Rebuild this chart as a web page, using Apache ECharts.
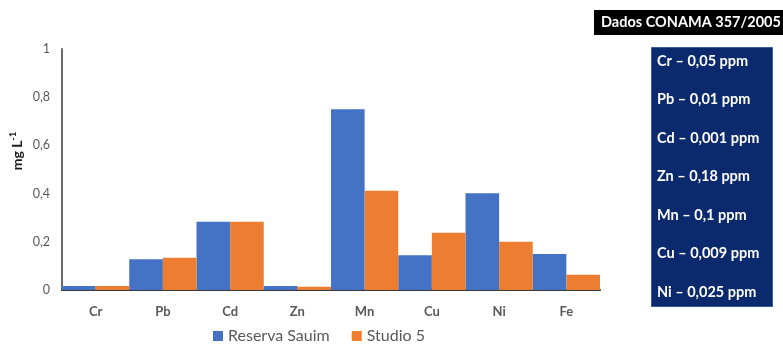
<!DOCTYPE html>
<html>
<head>
<meta charset="utf-8">
<script src="https://cdn.jsdelivr.net/npm/echarts@6/dist/echarts.min.js"></script>
<style>
  html, body { margin: 0; padding: 0; background: #fff; }
  #chart { width: 783px; height: 346px; }
</style>
</head>
<body>
<div id="chart"></div>
<script>
// Metal concentrations (mg L-1) per element and sampling site
const elements = ['Cr', 'Pb', 'Cd', 'Zn', 'Mn', 'Cu', 'Ni', 'Fe'];
const reservaSauim = [0.017, 0.128, 0.283, 0.017, 0.75, 0.144, 0.401, 0.149];
const studio5 = [0.017, 0.134, 0.283, 0.014, 0.412, 0.238, 0.2, 0.063];
const yTicks = [0, 0.2, 0.4, 0.6, 0.8, 1];

// CONAMA 357/2005 reference limits shown in the side panel
const limitsTitle = 'Dados CONAMA 357/2005';
const limits = [
  'Cr – 0,05 ppm',
  'Pb – 0,01 ppm',
  'Cd – 0,001 ppm',
  'Zn – 0,18 ppm',
  'Mn – 0,1 ppm',
  'Cu – 0,009 ppm',
  'Ni – 0,025 ppm'
];

const FONT = 'Lato, "Open Sans", sans-serif';
const chart = echarts.init(document.getElementById('chart'), null, { renderer: 'canvas' });

const panelTop = 47, panelBottom = 306;
const firstLine = 61, lineStep = 38.5;
const limitTexts = limits.map((t, i) => ({
  type: 'text',
  x: 657,
  y: firstLine + lineStep * i,
  style: { text: t, fill: '#ffffff', font: 'bold 14.5px ' + FONT, verticalAlign: 'middle' }
}));

chart.setOption({
  animation: false,
  color: ['#4472C4', '#ED7D31'],
  grid: { left: 62, right: 183, top: 49, bottom: 56 },
  legend: {
    bottom: -3,
    left: 208,
    itemWidth: 10,
    itemHeight: 10,
    itemGap: 22,
    icon: 'rect',
    textStyle: { color: '#595959', fontSize: 16, fontFamily: FONT }
  },
  xAxis: {
    type: 'category',
    data: elements,
    axisLine: { lineStyle: { color: '#3a3a3a', width: 2 } },
    axisTick: { show: false },
    axisLabel: { color: '#595959', fontWeight: 'bold', fontSize: 13, fontFamily: FONT, margin: 15 }
  },
  yAxis: {
    type: 'value',
    min: 0,
    max: 1,
    interval: 0.2,
    axisLine: { show: true, lineStyle: { color: '#6b6b6b', width: 2 } },
    axisTick: { show: false },
    splitLine: { show: false },
    axisLabel: {
      color: '#595959',
      fontSize: 12.5,
      fontFamily: FONT,
      margin: 12,
      formatter: v => {
        const t = yTicks.find(k => Math.abs(k - v) < 1e-9);
        return t === undefined ? '' : String(t).replace('.', ',');
      }
    }
  },
  series: [
    { name: 'Reserva Sauim', type: 'bar', data: reservaSauim, barGap: '0%', barCategoryGap: '0%' },
    { name: 'Studio 5', type: 'bar', data: studio5, barGap: '0%', barCategoryGap: '0%' }
  ],
  graphic: [
    // y-axis unit label
    {
      type: 'text', x: 17, y: 151, rotation: Math.PI / 2,
      style: {
        text: '{a|mg L}{s|-1}', align: 'center', verticalAlign: 'middle',
        rich: {
          a: { fontWeight: 'bold', fontSize: 14, fill: '#1a1a1a', fontFamily: FONT },
          s: { fontWeight: 'bold', fontSize: 9, fill: '#1a1a1a', fontFamily: FONT, verticalAlign: 'top', padding: [0, 0, 8, 0] }
        }
      }
    },
    { type: 'rect', left: 594, top: 10, shape: { width: 189, height: 25 }, style: { fill: '#000000' } },
    { type: 'text', x: 601, y: 22.5, style: { text: limitsTitle, fill: '#ffffff', font: 'bold 14.5px ' + FONT, verticalAlign: 'middle' } },
    { type: 'rect', left: 651, top: panelTop, shape: { width: 121, height: panelBottom - panelTop }, style: { fill: '#0b2a6e', stroke: '#3a5aa0', lineWidth: 1 } }
  ].concat(limitTexts)
});
</script>
</body>
</html>
